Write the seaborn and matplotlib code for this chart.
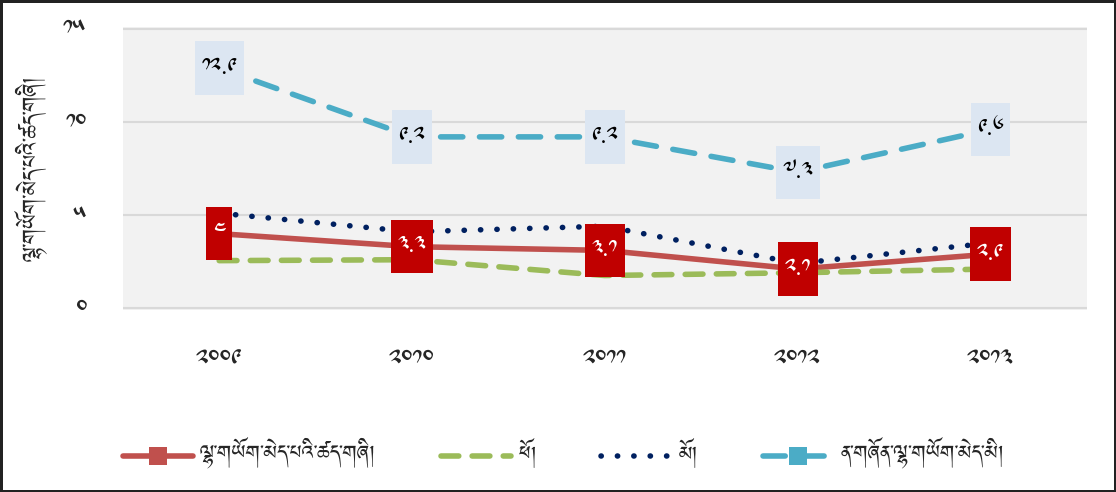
import matplotlib
matplotlib.use("Agg")
import matplotlib.pyplot as plt
import seaborn as sns
import pandas as pd
from matplotlib import font_manager
from matplotlib.path import Path

# ---------------------------------------------------------------------------
# Dati
# ---------------------------------------------------------------------------
years = ["༢༠༠༩", "༢༠༡༠", "༢༠༡༡", "༢༠༡༢", "༢༠༡༣"]
total = [4.0, 3.3, 3.1, 2.1, 2.9]
male = [2.55, 2.6, 1.75, 1.9, 2.1]
female = [5.1, 4.1, 4.4, 2.4, 3.5]
youth = [12.9, 9.2, 9.2, 7.3, 9.6]

series_names = [
    "ལྷ་གཡོག་མེད་པའི་ཚད་གཞི།",
    "ཕོ།",
    "མོ།",
    "ན་གཞོན་ལྷ་གཡོག་མེད་མི།",
]
y_title = "ལྷ་གཡོག་མེད་པའི་ཚད་གཞི།"
y_ticks = [0, 5, 10, 15]

TIB_DIGITS = str.maketrans("0123456789", "༠༡༢༣༤༥༦༧༨༩")


def tib(v):
    return f"{v:g}".translate(TIB_DIGITS)


def tall_box(x0, y0, width, height, mutation_size):
    # riquadro più alto che largo, come le etichette dell'originale
    px = 0.3 * mutation_size
    py = 0.72 * mutation_size
    x1, y1 = x0 + width + px, y0 + height + py
    x0, y0 = x0 - px, y0 - py
    return Path([(x0, y0), (x1, y0), (x1, y1), (x0, y1), (x0, y0)], closed=True)


# cerca un font con i glifi tibetani
tib_fonts = sorted({f.name for f in font_manager.fontManager.ttflist
                    if "ibetan" in f.name or "Jomolhari" in f.name})

sns.set_theme(style="white")
plt.rcParams["font.family"] = tib_fonts[:1] + ["DejaVu Sans"]

fig = plt.figure(figsize=(11.16, 4.92), dpi=100, linewidth=2.5, edgecolor="#222222")
ax = fig.add_axes([0.110, 0.370, 0.864, 0.575])
ax.set_facecolor("#F2F2F2")

df = pd.DataFrame({"year": years, "total": total, "male": male,
                   "female": female, "youth": youth})

styles = {
    "total": dict(color="#C0504D", lw=4, ls="-", marker="s", ms=13),
    "male": dict(color="#9BBB59", lw=4, ls=(0, (3.2, 2.4))),
    "female": dict(color="#002060", lw=4, ls=(0, (0.05, 2.9))),
    "youth": dict(color="#4BACC6", lw=4, ls=(0, (4.0, 3.0)), marker="s", ms=13),
}
for key, name in zip(["total", "male", "female", "youth"], series_names):
    st = styles[key]
    sns.lineplot(data=df, x="year", y=key, ax=ax, sort=False, label=name,
                 color=st["color"], linewidth=st["lw"], linestyle=st["ls"],
                 marker=st.get("marker"), markersize=st.get("ms", 0),
                 markeredgewidth=0, dash_capstyle="round")

# etichette dei valori
for i, v in enumerate(youth):
    ax.text(i, v, tib(v), ha="center", va="center", fontsize=16, color="black",
            bbox=dict(boxstyle=tall_box, fc="#DCE6F2", ec="none"), zorder=5)
for i, v in enumerate(total):
    ax.text(i, v, tib(v), ha="center", va="center", fontsize=16, color="white",
            fontweight="bold",
            bbox=dict(boxstyle=tall_box, fc="#C00000", ec="none"), zorder=5)

ax.set_xlim(-0.5, 4.5)
ax.set_ylim(-0.1, 15.1)
ax.set_yticks(y_ticks)
ax.set_yticklabels([tib(t) for t in y_ticks], fontsize=18)
ax.tick_params(axis="y", length=0, pad=26)
ax.tick_params(axis="x", length=0, pad=28, labelsize=18)
ax.grid(axis="y", color="#D9D9D9", lw=1.5)
ax.set_axisbelow(True)
for sp in ax.spines.values():
    sp.set_visible(False)
ax.set_xlabel("")
ax.set_ylabel(y_title, fontsize=19)
ax.yaxis.set_label_coords(-0.076, 0.5)

ax.get_legend().remove()
h, l = ax.get_legend_handles_labels()
fig.legend(h, l, loc="center", bbox_to_anchor=(0.505, 0.075), ncol=4,
           frameon=False, handlelength=2.8, columnspacing=2.6, fontsize=18,
           handletextpad=0.3)

fig.savefig("out.png", dpi=100)
